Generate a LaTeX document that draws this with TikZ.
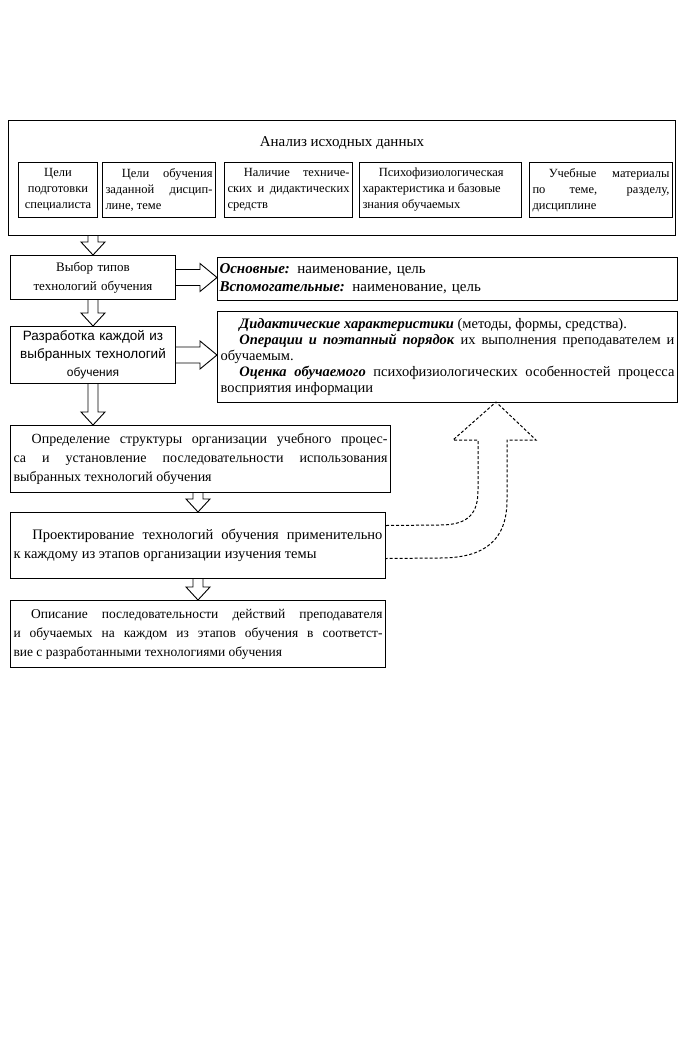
\documentclass[tikz,border=0pt]{standalone}
\usepackage{fontspec}
\setmainfont{Liberation Serif}
\setsansfont{Liberation Sans}
\usetikzlibrary{calc,positioning}

\newcommand{\ind}{\hspace*{1.3em}}
\newcommand{\bi}[1]{\textbf{\textit{#1}}}
% hollow block arrows between two anchors
\newcommand{\hdown}[2]{%
  \draw[hollow] let \p1=(#1), \p2=(#2) in
    (\x1-5pt,\y1) -- (\x1-5pt,\y2+13pt) -- (\x1-12pt,\y2+13pt) -- (\x1,\y2)
    -- (\x1+12pt,\y2+13pt) -- (\x1+5pt,\y2+13pt) -- (\x1+5pt,\y1);}
\newcommand{\hright}[2]{%
  \draw[hollow] let \p1=(#1), \p2=(#2) in
    (\x1,\y1+8pt) -- (\x2-17pt,\y1+8pt) -- (\x2-17pt,\y1+14pt) -- (\x2,\y1)
    -- (\x2-17pt,\y1-14pt) -- (\x2-17pt,\y1-8pt) -- (\x1,\y1-8pt);}

\begin{document}
\begin{tikzpicture}[x=1pt,y=-1pt,
    box/.style={draw,line width=1pt,inner ysep=0pt,inner xsep=4pt,anchor=north west},
    small/.style={box,minimum height=55pt,inner xsep=3pt,align=justify,font={\fontsize{12.5}{16}\selectfont}},
    step box/.style={box,align=center,font={\fontsize{13}{19}\selectfont}},
    wide/.style={box,align=justify,inner xsep=3pt,font={\fontsize{14}{19}\selectfont}},
    hollow/.style={line width=0.9pt,fill=white},
    back/.style={densely dashed,line width=1pt}]
  \useasboundingbox (0,0) rectangle (693,1037);

  % analysis of the initial data
  \node[box,minimum width=667pt,minimum height=115pt] (analiz) at (8,120) {};
  \node[font={\fontsize{15}{18}\selectfont},below=13pt of analiz.north] (title) {Анализ исходных данных};
  \node[small,align=center,text width=73pt] (goal1) at (18,162) {Цели\\ подготовки\\ специалиста};
  \node[small,text width=107pt,right=4pt of goal1] (goal2) {\ind Цели обучения\linebreak заданной дисцип-\linebreak лине, теме};
  \node[small,text width=122pt,right=8pt of goal2] (means) {\ind Наличие техниче-\linebreak ских и дидактических\linebreak средств};
  \node[small,text width=156pt,right=6pt of means] (psych) {\ind Психофизиологическая\newline характеристика и базовые\newline знания обучаемых};
  \node[small,text width=137pt,right=7pt of psych] (mater) {\ind Учебные материалы\linebreak по теме, разделу,\linebreak дисциплине};

  % main chain
  \node[step box,text width=157pt,minimum height=44pt] (vybor) at (10,255) {Выбор типов\\ технологий обучения};
  \node[step box,text width=157pt,minimum height=57pt,font={\sffamily\fontsize{13.5}{18}\selectfont}] (razr) at (10,326)
    {Разработка каждой из\\ выбранных технологий\\ {\fontsize{12}{14}\selectfont обучения}};
  \node[wide,text width=374pt,minimum height=67pt] (opred) at (10,425)
    {\ind Определение структуры организации учебного процес-\linebreak са и установление последовательности использования\linebreak выбранных технологий обучения};
  \node[wide,text width=369pt,minimum height=66pt,font={\fontsize{14.5}{19}\selectfont}] (proj) at (10,512)
    {\ind Проектирование технологий обучения применительно\linebreak к каждому из этапов организации изучения темы};
  \node[wide,text width=369pt,minimum height=67pt,font={\fontsize{13.5}{19}\selectfont}] (opis) at (10,600)
    {\ind Описание последовательности действий преподавателя\linebreak и обучаемых на  каждом из этапов обучения в соответст-\linebreak вие с разработанными технологиями обучения};

  % right column
  \node[box,align=left,inner xsep=2pt,text width=456pt,minimum height=43pt,font={\fontsize{15}{18}\selectfont}] (types) at (217,257)
    {\bi{Основные:} наименование, цель\\ \bi{Вспомогательные:} наименование, цель};
  \node[box,align=justify,inner xsep=3pt,text width=454pt,minimum height=91pt,font={\fontsize{14.5}{16}\selectfont}] (chars) at (217,311)
    {\ind\bi{Дидактические характеристики} (методы, формы, средства).\par
     \ind\bi{Операции и поэтапный порядок} их выполнения преподавателем и\linebreak обучаемым.\par
     \ind\bi{Оценка обучаемого} психофизиологических особенностей процесса\linebreak восприятия информации};

  % block arrows
  \hdown{analiz.south -| vybor.south}{vybor.north}
  \hdown{vybor.south}{razr.north}
  \hdown{razr.south}{razr.south |- opred.north}
  \hdown{opred.south -| proj.south}{proj.north}
  \hdown{proj.south}{opis.north}
  \hright{vybor.east}{vybor.east -| types.west}
  \hright{razr.east}{razr.east -| chars.west}

  % feedback arrow
  \draw[back] ([yshift=20pt]proj.east) -- (440,525) .. controls (470,525) and (478,512) .. (478,490)
    -- (478,440) -- (453,440) -- (496,402) -- (536,440) -- (507,440) -- (507,500)
    .. controls (507,540) and (485,558) .. (440,558) -- ([yshift=-13pt]proj.east);
\end{tikzpicture}
\end{document}
